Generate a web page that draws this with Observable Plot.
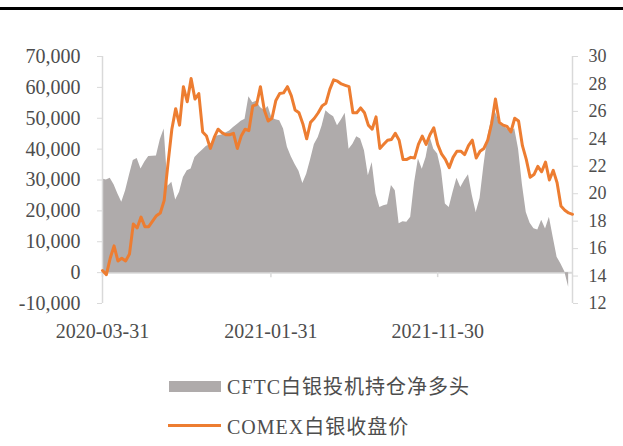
<!DOCTYPE html>
<html><head><meta charset="utf-8">
<script src="https://cdn.jsdelivr.net/npm/d3@7"></script>
<script src="https://cdn.jsdelivr.net/npm/@observablehq/plot@0.6"></script>
<style>
body{margin:0;background:#fff;}
#wrap{position:relative;width:623px;height:446px;overflow:hidden;font-family:'Liberation Serif','Times New Roman','Noto Sans CJK SC',serif;color:#4d4d4d;}
#rule{position:absolute;left:0;top:7px;width:623px;height:2.5px;background:#000;}
.layer{position:absolute;left:0;top:0;}
.leg{position:absolute;left:227px;font-size:20px;line-height:22px;white-space:nowrap;color:#4d4d4d;letter-spacing:1px;}
#sw1{position:absolute;left:169px;top:381px;width:52px;height:11px;background:#AFABAB;}
#sw2{position:absolute;left:168px;top:424px;width:53px;height:3px;background:#ED7D31;}
</style></head><body>
<div id="wrap">
  <div id="rule"></div>
  <div id="c1" class="layer"></div>
  <div id="c2" class="layer"></div>
  <div id="sw1"></div><div class="leg" id="l1" style="top:375.5px"></div>
  <div id="sw2"></div><div class="leg" id="l2" style="top:415.5px"></div>
</div>
<script>
// ---- data ----
const seriesNames = ["CFTC白银投机持仓净多头", "COMEX白银收盘价"];
const startDate = "2020-03-31"; // weekly observations
const xTickLabels = ["2020-03-31", "2021-01-31", "2021-11-30"];
const leftTicks = [-10000, 0, 10000, 20000, 30000, 40000, 50000, 60000, 70000];
const rightTicks = [12, 14, 16, 18, 20, 22, 24, 26, 28, 30];

// CFTC silver speculative net long (contracts), weekly
const netLong = [
  30300, 30000, 30600, 28500, 25500, 22800, 26500, 31500, 36300, 37000,
  33600, 35800, 37600, 37700, 37800, 43000, 46500, 28000, 29300, 23500,
  26000, 30800, 33000, 33600, 37300, 38600, 39700, 40900, 41400, 43500,
  44300, 44600, 45200, 45900, 47000, 48000, 49000, 49700, 57000, 55000,
  55500, 53500, 52500, 53800, 50000, 49500, 49200, 46500, 40600, 37500,
  35000, 32800, 28900, 31900, 36500, 41500, 43800, 47500, 52400, 51300,
  50500, 47600, 49400, 51600, 40000, 41600, 44000, 43300, 39500, 31400,
  35700, 25500, 21100, 21700, 22000, 28200, 26500, 15800, 16500, 16300,
  17900, 29000, 36800, 33500, 37300, 44000, 40000, 38400, 33000, 22200,
  21100, 26000, 30600, 27600, 29800, 31700, 24900, 19500, 24000, 34500,
  43800, 49700, 52000, 48500, 47400, 46600, 45600, 46600, 40000, 28500,
  19500, 16000, 14200, 13800, 17000, 14100, 17900, 11400, 5000, 2800,
  300, -4750
];

// COMEX silver close (USD/oz), weekly
const price = [
  14.4, 14.1, 15.3, 16.2, 15.1, 15.3, 15.1, 15.6, 17.8, 17.5,
  18.3, 17.6, 17.6, 18.0, 18.4, 18.6, 19.5, 22.2, 24.7, 26.2,
  25.0, 27.8, 26.7, 28.4, 26.9, 27.3, 24.5, 24.2, 23.3, 24.1,
  24.7, 24.45, 24.3, 24.3, 24.4, 23.3, 24.2, 24.7, 24.6, 26.4,
  26.5, 27.8, 26.1, 25.3, 25.5, 26.8, 27.3, 27.35, 27.8, 27.15,
  26.1, 25.9, 25.1, 24.0, 25.2, 25.5, 25.9, 26.4, 26.6, 27.6,
  28.3, 28.2, 28.0, 27.9, 27.8, 25.9, 25.9, 26.25, 25.9, 25.0,
  24.7, 25.6, 23.3, 23.6, 23.9, 23.95, 24.4, 23.9, 22.5, 22.5,
  22.65, 22.6, 23.6, 24.2, 23.6, 24.3, 24.8, 23.6, 22.9, 22.5,
  21.9, 22.65, 23.1, 23.1, 22.85, 23.5, 23.9, 22.6, 23.1, 23.3,
  23.9, 25.1, 26.9, 25.2, 25.0, 24.9, 24.5, 25.5, 25.3, 23.5,
  22.5, 21.2, 21.4, 22.0, 21.6, 22.3, 21.0, 21.7, 20.8, 19.1,
  18.8, 18.6, 18.5
];

// ---- build ----
const parse = s => new Date(s + "T00:00:00Z");
const start = parse(startDate);
const weeks = d3.range(Math.max(netLong.length, price.length)).map(i => d3.utcDay.offset(start, 7 * i));
const xDomain = [weeks[0], weeks[weeks.length - 1]];
const netData = netLong.map((v, i) => ({date: weeks[i], v}));
const priceData = price.map((v, i) => ({date: weeks[i], v}));
const tickDates = xTickLabels.map(parse);
const fmtLeft = d => (d < 0 ? "-" : "") + d3.format(",")(Math.abs(d));

const W = 623, H = 350;
const common = {
  width: W, height: H,
  marginLeft: 102, marginRight: 51, marginTop: 56, marginBottom: 47,
  style: {fontFamily: "'Liberation Serif','Times New Roman',serif", background: "transparent", overflow: "visible"}
};
const axisColor = "#D9D9D9", textColor = "#4d4d4d";

const p1 = Plot.plot({
  ...common,
  x: {type: "utc", domain: xDomain},
  y: {domain: [-10000, 70000]},
  marks: [
    Plot.ruleY([0], {stroke: axisColor, strokeWidth: 2}),
    Plot.areaY(netData, {x: "date", y: "v", fill: "#AFABAB"}),
    Plot.ruleX(tickDates, {y1: 0, y2: 0, insetBottom: -5, stroke: axisColor, strokeWidth: 1.5}),
    Plot.ruleX([xDomain[0]], {stroke: axisColor, strokeWidth: 1.5}),
    Plot.axisY(leftTicks, {tickSize: 5, tickPadding: 17, tickFormat: fmtLeft, fontSize: 20, fill: textColor, stroke: axisColor, label: null}),
    Plot.axisX(tickDates, {tickSize: 0, tickPadding: 20, tickFormat: d3.utcFormat("%Y-%m-%d"), fontSize: 20, fill: textColor, label: null})
  ]
});

const p2 = Plot.plot({
  ...common,
  x: {type: "utc", domain: xDomain, axis: null},
  y: {domain: [12, 30]},
  marks: [
    Plot.ruleX([xDomain[1]], {stroke: axisColor, strokeWidth: 1.5}),
    Plot.lineY(priceData, {x: "date", y: "v", stroke: "#ED7D31", strokeWidth: 3}),
    Plot.axisY(rightTicks, {anchor: "right", tickSize: 5, tickPadding: 11, fontSize: 18, fill: textColor, stroke: axisColor, label: null})
  ]
});

document.getElementById("c1").appendChild(p1);
document.getElementById("c2").appendChild(p2);
document.getElementById("l1").textContent = seriesNames[0];
document.getElementById("l2").textContent = seriesNames[1];
</script>
</body></html>
